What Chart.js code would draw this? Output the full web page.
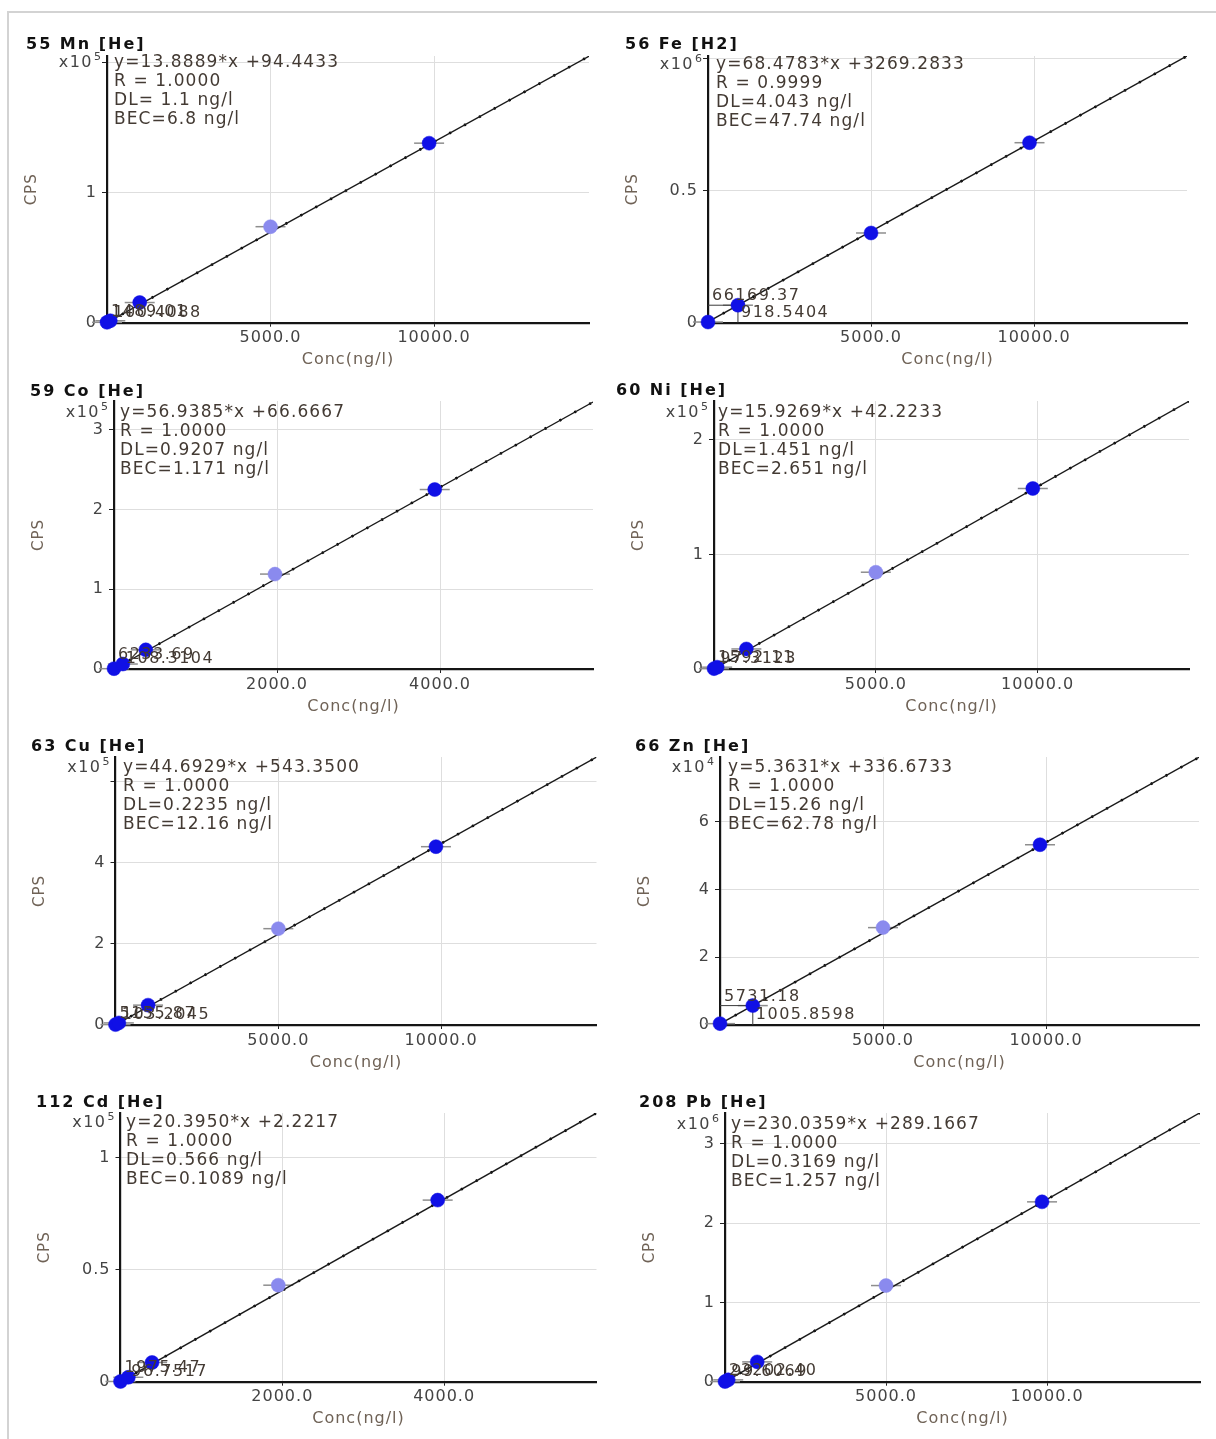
<!DOCTYPE html>
<html>
<head>
<meta charset="utf-8">
<script src="https://cdn.jsdelivr.net/npm/chart.js@4.4.1/dist/chart.umd.min.js"></script>
<style>
  html, body { margin: 0; padding: 0; background: #ffffff; }
  #page { position: relative; width: 1216px; height: 1439px; overflow: hidden; background: #ffffff; }
  #frame { position: absolute; left: 7px; top: 11px; width: 1209px; height: 1430px;
           border-top: 2px solid #d3d3d3; border-left: 2px solid #d3d3d3; box-sizing: border-box; }
  canvas { position: absolute; }
</style>
</head>
<body>
<div id="page"><div id="frame"></div></div>
<script>
// ---- calibration curves: element titles and regression results ----
const panelTitles = ['55 Mn [He]', '56 Fe [H2]', '59 Co [He]', '60 Ni [He]',
                     '63 Cu [He]', '66 Zn [He]', '112 Cd [He]', '208 Pb [He]'];
const slopes     = [13.8889, 68.4783, 56.9385, 15.9269, 44.6929, 5.3631, 20.3950, 230.0359];
const intercepts = [94.4433, 3269.2833, 66.6667, 42.2233, 543.3500, 336.6733, 2.2217, 289.1667];
const rTexts     = ['1.0000', '0.9999', '1.0000', '1.0000', '1.0000', '1.0000', '1.0000', '1.0000'];
const dlTexts    = ['DL= 1.1 ng/l', 'DL=4.043 ng/l', 'DL=0.9207 ng/l', 'DL=1.451 ng/l',
                    'DL=0.2235 ng/l', 'DL=15.26 ng/l', 'DL=0.566 ng/l', 'DL=0.3169 ng/l'];
const becTexts   = ['BEC=6.8 ng/l', 'BEC=47.74 ng/l', 'BEC=1.171 ng/l', 'BEC=2.651 ng/l',
                    'BEC=12.16 ng/l', 'BEC=62.78 ng/l', 'BEC=0.1089 ng/l', 'BEC=1.257 ng/l'];
const exponents  = [5, 6, 5, 5, 5, 4, 5, 6];

// ---- standards: concentration (ng/l) and counts per second ----
const concMn = [0, 100.4088, 1000, 5000, 9850];
const cpsMn  = [300, 1489.01, 15500, 73800, 138000];
const concFe = [0, 918.5404, 5000, 9860];
const cpsFe  = [2500, 66169.37, 339400, 681000];
const concCo = [0, 108.3104, 390, 1975, 3935];
const cpsCo  = [400, 6233.69, 24000, 119000, 225000];
const concNi = [0, 97.3123, 1000, 5000, 9850];
const cpsNi  = [300, 1592.11, 17500, 84500, 157600];
const concCu = [0, 103.2045, 1000, 5000, 9840];
const cpsCu  = [1000, 5155.87, 49000, 237600, 439800];
const concZn = [0, 1005.8598, 5000, 9816];
const cpsZn  = [400, 5731.18, 28780, 53270];
const concCd = [0, 96.7517, 390, 1950, 3920];
const cpsCd  = [100, 1975.47, 8600, 43100, 81100];
const concPb = [0, 99.6069, 1000, 5000, 9845];
const cpsPb  = [1500, 23202.40, 250000, 1213000, 2269000];

const concSets = [concMn, concFe, concCo, concNi, concCu, concZn, concCd, concPb];
const cpsSets  = [cpsMn, cpsFe, cpsCo, cpsNi, cpsCu, cpsZn, cpsCd, cpsPb];
const markedIndex = [1, 1, 1, 1, 1, 1, 1, 1];      // point carrying the cps / conc readout
const paleIndex   = [3, -1, 3, 3, 3, 2, 3, 3];     // standard drawn in the pale colour

// ---- axis ranges and ticks ----
const xMaxes = [14740, 14690, 5877, 14676, 14770, 14693, 5883, 14750];
const yMaxes = [2.05e5, 1.009e6, 3.36e5, 2.34e5, 6.61e5, 7.92e4, 1.2e5, 3.39e6];
const xTickValues = [
  [0, 5000, 10000], [0, 5000, 10000], [0, 2000, 4000], [0, 5000, 10000],
  [0, 5000, 10000], [0, 5000, 10000], [0, 2000, 4000], [0, 5000, 10000]];
const xTickLabels = [
  ['', '5000.0', '10000.0'], ['', '5000.0', '10000.0'], ['', '2000.0', '4000.0'], ['', '5000.0', '10000.0'],
  ['', '5000.0', '10000.0'], ['', '5000.0', '10000.0'], ['', '2000.0', '4000.0'], ['', '5000.0', '10000.0']];
const yTickValues = [
  [0, 1e5, 2e5], [0, 5e5, 1e6], [0, 1e5, 2e5, 3e5], [0, 1e5, 2e5],
  [0, 2e5, 4e5, 6e5], [0, 2e4, 4e4, 6e4], [0, 5e4, 1e5], [0, 1e6, 2e6, 3e6]];
const yTickLabels = [
  ['0', '1', ''], ['0', '0.5', ''], ['0', '1', '2', '3'], ['0', '1', '2'],
  ['0', '2', '4', ''], ['0', '2', '4', '6'], ['0', '0.5', '1'], ['0', '1', '2', '3']];

// ---- page layout (pixels) ----
const plotRects = [
  [107, 56, 589, 322.7], [708, 56, 1187, 322.7],
  [114, 401, 593, 669], [714, 401, 1189, 669],
  [115.5, 757, 597, 1025], [720, 757, 1199, 1025],
  [120.5, 1113, 600, 1381.7], [725, 1113, 1200, 1381.7]];
const titlePos = [[26, 45], [625, 45], [30, 392], [616, 391], [31, 747], [635, 747], [36, 1103], [639, 1103]];
const notePos  = [[114, 63], [716, 65], [120, 413], [718, 413], [123, 768], [728, 768], [126, 1123], [731, 1125]];
const colX = [10, 604], colW = [594, 610];
const rowY = [20, 372, 728, 1086], rowH = [352, 356, 358, 352];
const Y_AXIS_W = 85, X_AXIS_H = 48;

const FONT = 'DejaVu Sans';
const DARK_PT = '#1010e6';
const PALE_PT = '#8a8aee';
const NOTE_COLOR = '#433a33';

function drawText(ctx, s, x, y, font, color, spacing, align, baseline) {
  ctx.save();
  ctx.font = font;
  ctx.fillStyle = color;
  ctx.letterSpacing = spacing;
  ctx.textAlign = align || 'left';
  ctx.textBaseline = baseline || 'middle';
  ctx.fillText(s, x, y);
  ctx.restore();
}

function makeDecor(i, cx, cy) {
  return {
    id: 'panelDecor' + i,
    beforeDraw(chart) {
      chart.ctx.letterSpacing = '1px';
    },
    beforeDatasetsDraw(chart) {
      const ctx = chart.ctx;
      const area = chart.chartArea;
      const pts = chart.getDatasetMeta(0).data;
      ctx.save();
      // horizontal spread bars
      ctx.strokeStyle = '#8e8e8e';
      ctx.lineWidth = 1.5;
      pts.forEach(p => {
        ctx.beginPath();
        ctx.moveTo(p.x - 15, p.y);
        ctx.lineTo(p.x + 15, p.y);
        ctx.stroke();
      });
      // readout guides of the marked standard
      const m = pts[markedIndex[i]];
      ctx.strokeStyle = '#3a3a3a';
      ctx.lineWidth = 1;
      ctx.beginPath();
      ctx.moveTo(area.left, m.y);
      ctx.lineTo(m.x, m.y);
      ctx.lineTo(m.x, area.bottom);
      ctx.stroke();
      ctx.restore();
    },
    afterDatasetsDraw(chart) {
      const ctx = chart.ctx;
      const area = chart.chartArea;
      const k = markedIndex[i];
      const m = chart.getDatasetMeta(0).data[k];
      const f = '16px "' + FONT + '"';
      drawText(ctx, cpsSets[i][k].toFixed(2), area.left + 4, m.y - 1, f, NOTE_COLOR, '1.5px', 'left', 'bottom');
      drawText(ctx, concSets[i][k].toFixed(4), m.x + 3, area.bottom - 2, f, NOTE_COLOR, '1.5px', 'left', 'bottom');
    },
    afterDraw(chart) {
      const ctx = chart.ctx;
      const area = chart.chartArea;
      // panel title
      drawText(ctx, panelTitles[i], titlePos[i][0] - cx, titlePos[i][1] - cy,
               'bold 16px "' + FONT + '"', '#111111', '2px', 'left', 'middle');
      // regression summary
      const nx = notePos[i][0] - cx, ny = notePos[i][1] - cy;
      const lines = ['y=' + slopes[i].toFixed(4) + '*x +' + intercepts[i].toFixed(4),
                     'R = ' + rTexts[i], dlTexts[i], becTexts[i]];
      lines.forEach((s, j) => drawText(ctx, s, nx, ny + j * 19, '17px "' + FONT + '"', NOTE_COLOR, '1.1px', 'left', 'middle'));
      // axis multiplier
      ctx.save();
      ctx.font = '11px "' + FONT + '"';
      const supW = ctx.measureText(String(exponents[i])).width;
      ctx.restore();
      const ex = area.left - 6;
      drawText(ctx, String(exponents[i]), ex, ny - 6, '11px "' + FONT + '"', '#444444', '0px', 'right', 'middle');
      drawText(ctx, 'x10', ex - supW, ny, '16px "' + FONT + '"', '#444444', '1.5px', 'right', 'middle');
    }
  };
}

const page = document.getElementById('page');

for (let i = 0; i < 8; i++) {
  const col = i % 2, row = Math.floor(i / 2);
  const cx = colX[col], cy = rowY[row], cw = colW[col], ch = rowH[row];
  const [l, t, r, b] = plotRects[i];

  const cv = document.createElement('canvas');
  cv.width = cw; cv.height = ch;
  cv.style.left = cx + 'px'; cv.style.top = cy + 'px';
  cv.style.width = cw + 'px'; cv.style.height = ch + 'px';
  page.appendChild(cv);

  const pts = concSets[i].map((c, j) => ({ x: c, y: cpsSets[i][j] }));
  const colors = concSets[i].map((c, j) => (j === paleIndex[i] ? PALE_PT : DARK_PT));
  const xEnd = xMaxes[i];
  const fit = [{ x: 0, y: intercepts[i] }, { x: xEnd, y: slopes[i] * xEnd + intercepts[i] }];

  new Chart(cv, {
    type: 'scatter',
    data: {
      datasets: [
        { data: pts, pointRadius: 7, pointHoverRadius: 7, pointBackgroundColor: colors,
          pointBorderColor: colors, pointBorderWidth: 0.5, clip: false },
        { data: fit, showLine: true, borderColor: '#1a1a1a', borderWidth: 1.4, pointRadius: 0 },
        { data: fit, showLine: true, borderColor: '#000000', borderWidth: 2.6, pointRadius: 0,
          borderDash: [2, 15] }
      ]
    },
    options: {
      responsive: false,
      animation: false,
      devicePixelRatio: 1,
      events: [],
      layout: { padding: { left: l - cx - Y_AXIS_W, top: t - cy, right: cx + cw - r, bottom: cy + ch - b - X_AXIS_H } },
      plugins: { legend: { display: false }, tooltip: { enabled: false } },
      scales: {
        x: {
          type: 'linear', min: 0, max: xMaxes[i],
          afterBuildTicks: s => { s.ticks = xTickValues[i].map(v => ({ value: v })); },
          afterFit: s => { s.height = X_AXIS_H; },
          ticks: { autoSkip: false, maxRotation: 0, padding: 2, color: '#444444',
                   font: { family: FONT, size: 16 }, callback: (v, idx) => xTickLabels[i][idx] },
          grid: { color: '#dedede', lineWidth: 1, tickColor: '#222222', tickLength: 4 },
          border: { display: true, color: '#151515', width: 2.2 },
          title: { display: true, text: 'Conc(ng/l)', color: '#6f6256',
                   font: { family: FONT, size: 16 }, padding: { top: 0, bottom: 1 } }
        },
        y: {
          type: 'linear', min: 0, max: yMaxes[i],
          afterBuildTicks: s => { s.ticks = yTickValues[i].map(v => ({ value: v })); },
          afterFit: s => { s.width = Y_AXIS_W; },
          ticks: { autoSkip: false, padding: 5, color: '#444444',
                   font: { family: FONT, size: 16 }, callback: (v, idx) => yTickLabels[i][idx] },
          grid: { color: '#dedede', lineWidth: 1, tickColor: '#222222', tickLength: 5 },
          border: { display: true, color: '#151515', width: 2.2 },
          title: { display: true, text: 'CPS', color: '#6f6256',
                   font: { family: FONT, size: 15 }, padding: { top: 1, bottom: 0 } }
        }
      }
    },
    plugins: [makeDecor(i, cx, cy)]
  });
}
</script>
</body>
</html>
